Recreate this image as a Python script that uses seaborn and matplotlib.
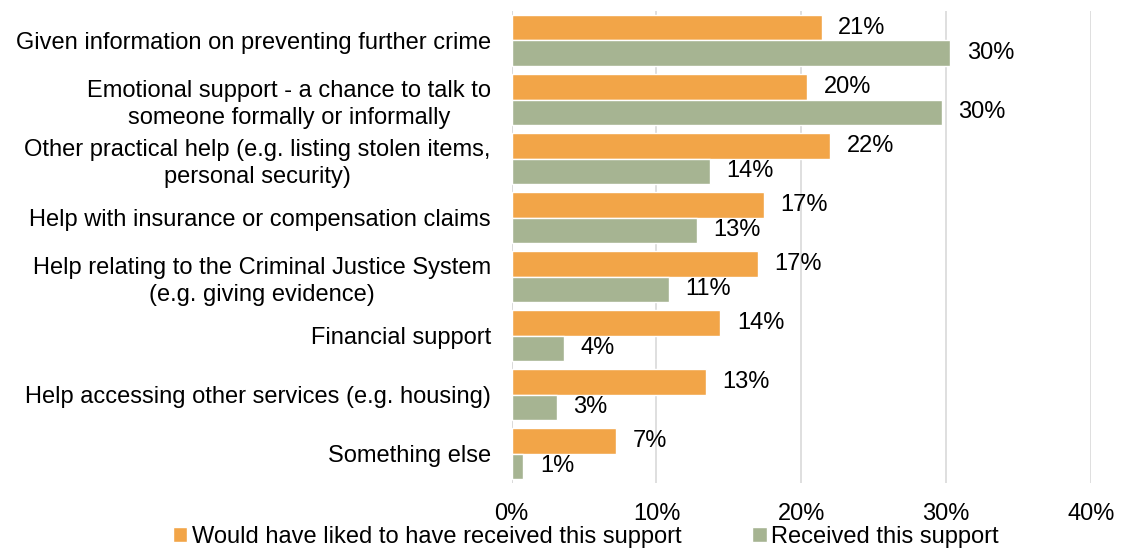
import numpy as np
import pandas as pd
import matplotlib
matplotlib.use("Agg")
import matplotlib.pyplot as plt
import seaborn as sns

categories = [
    "Given information on preventing further crime",
    "Emotional support - a chance to talk to\nsomeone formally or informally",
    "Other practical help (e.g. listing stolen items,\npersonal security)",
    "Help with insurance or compensation claims",
    "Help relating to the Criminal Justice System\n(e.g. giving evidence)",
    "Financial support",
    "Help accessing other services (e.g. housing)",
    "Something else",
]
would_have_liked = [21.4, 20.4, 22.0, 17.4, 17.0, 14.4, 13.4, 7.2]
received = [30.3, 29.7, 13.7, 12.8, 10.85, 3.6, 3.1, 0.8]
series_names = ["Would have liked to have received this support", "Received this support"]
xticks = [0, 10, 20, 30, 40]
xtick_labels = ["0%", "10%", "20%", "30%", "40%"]

colors = ["#F2A548", "#A6B492"]

df = pd.DataFrame({
    "category": categories * 2,
    "value": would_have_liked + received,
    "series": [series_names[0]] * len(categories) + [series_names[1]] * len(categories),
})

sns.set_style("white")
plt.rcParams["font.family"] = ["Liberation Sans", "DejaVu Sans"]
FS = 17

fig = plt.figure(figsize=(11.27, 5.49), dpi=100)
ax = fig.add_axes([0.454, 0.120, 0.514, 0.860])

sns.barplot(data=df, y="category", x="value", hue="series", orient="h",
            palette=colors, width=0.86, ax=ax, legend=True, saturation=1)

for container in ax.containers:
    ax.bar_label(container, labels=[f"{v:.0f}%" for v in container.datavalues],
                 padding=12, fontsize=FS, color="black")

ax.set_xlim(0, 40)
ax.set_xticks(xticks)
ax.set_xticklabels(xtick_labels, fontsize=FS, color="black")
ax.set_xlabel("")
ax.set_ylabel("")
ax.tick_params(axis="x", length=0, pad=14, labelcolor="black")
ax.tick_params(axis="y", length=0, pad=15, labelsize=FS, labelcolor="black")
for lbl in ax.get_yticklabels():
    lbl.set_multialignment("center")
    lbl.set_linespacing(1.3)

ax.grid(axis="x", color="#D9D9D9", linewidth=1.2)
ax.grid(axis="y", visible=False)
ax.set_axisbelow(True)
for s in ["top", "right", "bottom", "left"]:
    ax.spines[s].set_visible(False)
ax.axvline(0, color="#D9D9D9", linewidth=1.2, zorder=0)

handles, labels = ax.get_legend_handles_labels()
ax.get_legend().remove()
leg = fig.legend(handles, labels, loc="lower center", bbox_to_anchor=(0.52, -0.036),
                 ncol=2, frameon=False, fontsize=FS, handlelength=0.6, handleheight=0.6,
                 handletextpad=0.2, columnspacing=3.0)
for t in leg.get_texts():
    t.set_color("black")

fig.savefig("out.png", dpi=100)
